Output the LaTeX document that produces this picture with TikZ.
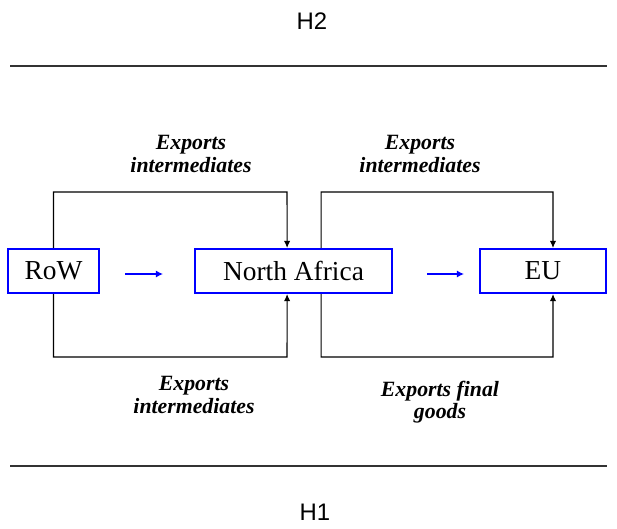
\documentclass[tikz,border=0pt]{standalone}
\usepackage{fontspec}
\setmainfont{Liberation Serif}
\newfontfamily\headfont{Liberation Sans}
\usetikzlibrary{positioning}
\usetikzlibrary{arrows.meta}

\begin{document}
\begin{tikzpicture}[x=0.025cm,y=-0.025cm,
  region/.style={draw=blue,line width=1.5pt,fill=white,minimum height=1.1cm,
    inner sep=0pt,font=\fontsize{19.5}{19.5}\selectfont},
  flow/.style={black,line width=0.75pt,-{Latex[length=5pt,width=4.5pt]}},
  bluearrow/.style={blue,line width=0.9pt,-{Latex[length=5pt,width=5pt]}},
  rule/.style={black!80,line width=1.4pt},
  tag/.style={align=center,font=\fontsize{15.5}{16}\selectfont\bfseries\itshape},
  head/.style={font=\headfont\fontsize{17}{17}\selectfont}]
 \useasboundingbox (0,0) rectangle (617,528);
 \node[head] (h2) at (312,21) {H2};
 \node[head] (h1) at (315,512) {H1};
 \coordinate (r2a) at (10,66); \coordinate (r2b) at (607,66);
 \coordinate (r1a) at (10,466); \coordinate (r1b) at (607,466);
 \draw[rule] (r2a) -- (r2b);
 \draw[rule] (r1a) -- (r1b);
 \node[region,minimum width=2.275cm] (row) at (53.5,271) {RoW};
 \node[region,minimum width=4.925cm] (na) at (293.5,271) {North Africa};
 \node[region,minimum width=3.15cm] (eu) at (543,271) {EU};
 \draw[flow] (row.north) |- (287,192) -- ([xshift=-0.16cm]na.north);
 \draw[flow] ([xshift=0.69cm]na.north) |- (553,192) -- ([xshift=0.25cm]eu.north);
 \draw[flow] (row.south) |- (287,357) -- ([xshift=-0.16cm]na.south);
 \draw[flow] ([xshift=0.69cm]na.south) |- (553,357) -- ([xshift=0.25cm]eu.south);
 \coordinate (s1a) at (125,274); \coordinate (s1b) at (163,274);
 \coordinate (s2a) at (427,274); \coordinate (s2b) at (464,274);
 \draw[bluearrow] (s1a) -- (s1b);
 \draw[bluearrow] (s2a) -- (s2b);
 \node[tag] (t1) at (191,154) {Exports\\intermediates};
 \node[tag] (t2) at (420,154) {Exports\\intermediates};
 \node[tag] (t3) at (194,395) {Exports\\intermediates};
 \node[tag] (t4) at (440,402) {Exports final\\goods};
\end{tikzpicture}
\end{document}
